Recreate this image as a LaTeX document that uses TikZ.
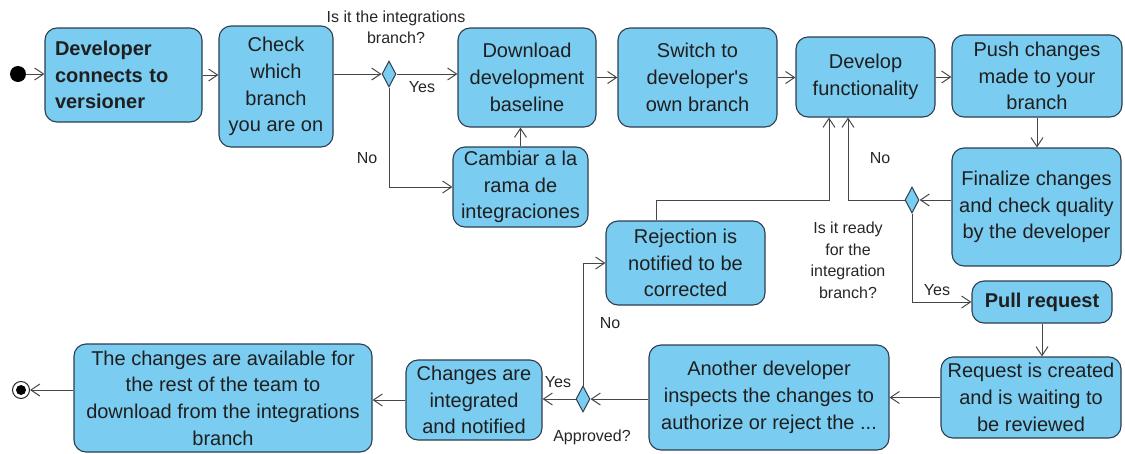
\documentclass[tikz,border=0pt]{standalone}
\usepackage{fontspec}
\setmainfont{Liberation Sans}
\usetikzlibrary{arrows.meta,shapes.geometric,calc}
\definecolor{boxfill}{RGB}{122,204,240}
\definecolor{boxdraw}{RGB}{45,62,80}
\definecolor{linec}{RGB}{70,70,70}
\begin{document}
\begin{tikzpicture}[x=1pt,y=-1pt,
  act/.style={draw=boxdraw, fill=boxfill, line width=1.1pt, rounded corners=12pt,
    inner sep=0pt, align=center, text=black!88,
    font=\fontsize{20}{26.7}\selectfont},
  dec/.style={diamond, draw=boxdraw, fill=boxfill, line width=1pt, inner sep=0pt,
    minimum width=14pt, minimum height=26pt},
  lbl/.style={inner sep=0pt, align=center, text=black!85,
    font=\fontsize{16}{21.5}\selectfont},
  conn/.style={draw=linec, line width=1pt, -{Straight Barb[length=9pt,width=12pt]}}
]
\useasboundingbox (0,0) rectangle (1125,453);

% start / end
\node[circle, fill=black, inner sep=0pt, minimum size=16pt] (start) at (18,74) {};
\node[circle, draw=black!85, line width=1pt, fill=white, inner sep=0pt, minimum size=17pt] (end) at (21,390) {};
\node[circle, fill=black, inner sep=0pt, minimum size=10pt] (endin) at (end) {};

% activities
\node[act, minimum width=157pt, minimum height=94pt, text width=137pt, align=left, font=\fontsize{20}{26.7}\selectfont\bfseries] (dev) at (123.5,75) {Developer\\connects to\\versioner};
\node[act, minimum width=114pt, minimum height=121pt] (check) at (276,86.5) {Check\\which\\branch\\you are on};
\node[act, minimum width=138pt, minimum height=99pt] (dl) at (527,77.5) {Download\\development\\baseline};
\node[act, minimum width=159pt, minimum height=99pt] (sw) at (697.5,77.5) {Switch to\\developer\textquotesingle s\\own branch};
\node[act, minimum width=139pt, minimum height=80pt] (devf) at (865.5,77) {Develop\\functionality};
\node[act, minimum width=170pt, minimum height=82pt] (push) at (1037,76) {Push changes\\made to your\\branch};
\node[act, minimum width=135pt, minimum height=80pt] (cam) at (520.5,187) {Cambiar a la\\rama de\\integraciones};
\node[act, minimum width=169pt, minimum height=118pt] (fin) at (1036.5,207) {Finalize changes\\and check quality\\by the developer};
\node[act, minimum width=159pt, minimum height=84pt] (rej) at (685.5,263) {Rejection is\\notified to be\\corrected};
\node[act, minimum width=140pt, minimum height=42pt, font=\fontsize{20}{26.7}\selectfont\bfseries] (pull) at (1042,302) {Pull request};
\node[act, minimum width=180pt, minimum height=81pt] (req) at (1031,397.5) {Request is created\\and is waiting to\\be reviewed};
\node[act, minimum width=240pt, minimum height=105pt] (ano) at (769,397.5) {Another developer\\inspects the changes to\\authorize or reject the ...};
\node[act, minimum width=136pt, minimum height=80pt] (chg) at (474,400) {Changes are\\integrated\\and notified};
\node[act, minimum width=298pt, minimum height=108pt] (avail) at (223,398) {The changes are available for\\the rest of the team to\\download from the integrations\\branch};

% decisions
\node[dec] (d1) at (389,74) {};
\node[dec] (d2) at (912,200) {};
\node[dec] (d3) at (583,399) {};

% labels
\node[lbl] (q1) at (396,27.5) {Is it the integrations\\branch?};
\node[lbl] (y1) at (422,87) {Yes};
\node[lbl] (n1) at (367,158) {No};
\node[lbl] (n2) at (880,158) {No};
\node[lbl] (q2) at (848,260.5) {Is it ready\\for the\\integration\\branch?};
\node[lbl] (y2) at (937,290) {Yes};
\node[lbl] (n3) at (610,323) {No};
\node[lbl] (y3) at (558,382) {Yes};
\node[lbl] (q3) at (592,437) {Approved?};

% connectors
\draw[conn] (start) -- (start -| dev.west);
\draw[conn] (dev.east) -- (dev.east -| check.west);
\draw[conn] (check.east |- d1) -- (d1.west);
\draw[conn] (d1.east) -- (d1 -| dl.west);
\draw[conn] (d1.south) |- (cam.west);
\draw[conn] (cam.north) -- (cam.north |- dl.south);
\draw[conn] (dl.east) -- (dl.east -| sw.west);
\draw[conn] (sw.east) -- (sw.east -| devf.west);
\draw[conn] (devf.east) -- (devf.east -| push.west);
\draw[conn] (push.south) -- (push.south |- fin.north);
\draw[conn] (fin.west |- d2) -- (d2.east);
\draw[conn] (d2.west) -| ($(devf.south)+(-17.5,0)$);
\draw[conn] (d2.south) |- (pull.west);
\draw[conn] (pull.south) -- (pull.south |- req.north);
\draw[conn] (req.west) -- (req.west -| ano.east);
\draw[conn] (ano.west |- d3) -- (d3.east);
\draw[conn] (d3.west) -- (d3 -| chg.east);
\draw[conn] (d3.north) |- (rej.west);
\draw[conn] ($(rej.north)+(-29.5,0)$) -- ++(0,-20) -| ($(devf.south)+(-36.5,0)$);
\draw[conn] (chg.west) -- (chg.west -| avail.east);
\draw[conn] (avail.west |- end) -- (end);
\end{tikzpicture}
\end{document}
